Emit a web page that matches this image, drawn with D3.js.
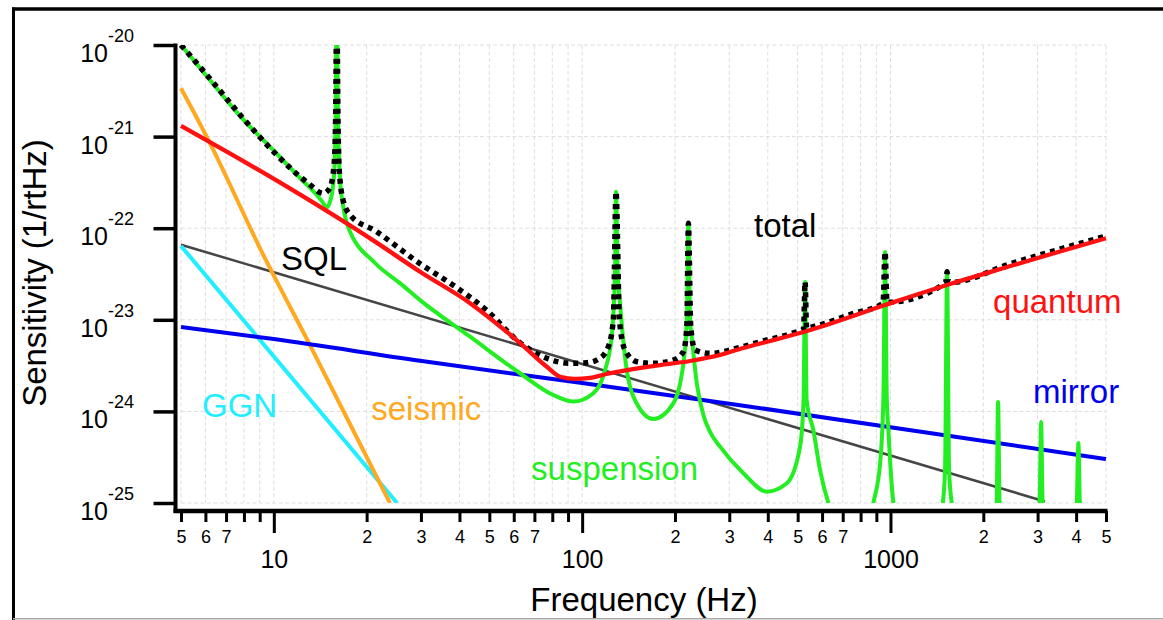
<!DOCTYPE html>
<html>
<head>
<meta charset="utf-8">
<script src="https://cdn.jsdelivr.net/npm/d3@7"></script>
<style>
  body { margin: 0; background: #fff; }
  svg { display: block; font-family: "Liberation Sans", Arial, sans-serif; }
  .grid line { stroke: #dedede; stroke-width: 1; stroke-dasharray: 4, 2.5; }
  .curve { fill: none; stroke-linejoin: round; }
</style>
</head>
<body>
<svg id="chart" width="1163" height="620"></svg>
<script>
/* =========================
   DATA  (frequency Hz, sensitivity 1/rtHz)
========================= */
const sql = [[5, 6.6e-23], [3170, 1.04e-25]];

const ggn = [[5, 6.4e-23], [25.1, 1.0e-25]];

const seismic = [
  [5, 3.37e-21], [6.13, 9.2e-22], [9.36, 4.7e-23], [9.85, 3.35e-23],
  [13.1, 5.3e-24], [23.8, 1.0e-25]
];

const mirror = [
  [5, 8.34e-24], [10, 6.16e-24], [29.8, 3.57e-24], [100, 2.04e-24],
  [325, 1.17e-24], [5000, 3.02e-25]
];

const quantum = [
  [5, 1.31e-21], [10.2, 3.32e-22], [21.3, 7.13e-23], [29.8, 3.35e-23],
  [43.3, 1.52e-23], [62.9, 5.57e-24], [76.8, 3.07e-24], [84.8, 2.39e-24],
  [94.8, 2.26e-24], [106, 2.32e-24], [120, 2.56e-24], [170, 3.13e-24],
  [224, 3.55e-24], [280, 4.13e-24], [333, 4.92e-24], [407, 5.87e-24],
  [549, 7.74e-24], [960, 1.45e-23], [1522, 2.4e-23], [2500, 3.94e-23],
  [3500, 5.5e-23], [5000, 7.76e-23]
];

const suspension = [
  [5, 1.0e-20], [6.13, 4.36e-21], [7.87, 1.6e-21], [10.1, 6.79e-22],
  [12.16, 3.53e-22], [13.6, 2.42e-22], [14.3, 1.98e-22], [14.85, 1.7e-22],
  [15.33, 2.14e-22], [15.68, 3.81e-22], [15.86, 1.52e-21], [16.0, 3e-20],
  [16.15, 1.52e-21], [16.4, 3.36e-22], [16.8, 1.72e-22], [17.4, 1.04e-22],
  [21.3, 4.17e-23], [25.7, 2.5e-23], [29.8, 1.64e-23], [43.3, 6.54e-24],
  [62.9, 2.61e-24], [80.6, 1.51e-24], [93.7, 1.28e-24], [108.7, 1.58e-24],
  [118.7, 2.83e-24], [124.7, 6.55e-24], [127.9, 3.5e-23], [128.8, 2.5e-22],
  [130.3, 3.5e-23], [132.7, 1.52e-23], [137.7, 3.95e-24], [146.6, 1.45e-24],
  [170.2, 8.26e-25], [197.7, 1.23e-24], [213, 3.35e-24], [218.5, 9.95e-24],
  [221.1, 1.13e-22], [223.9, 9.95e-24], [226.7, 6.55e-24], [235.4, 2.03e-24],
  [247.3, 9.14e-25], [260, 5.96e-25], [280.1, 4.12e-25], [333.4, 2.11e-25],
  [397, 1.33e-25], [461, 1.64e-25], [509, 4.12e-25], [522.5, 1.33e-24],
  [528.5, 2.59e-23], [534.5, 1.33e-24], [562, 6.27e-25], [591, 2.29e-25],
  [629, 1.0e-25], [687, 5.1e-26], [846, 5.1e-26], [880, 1.0e-25],
  [925.6, 2.73e-25], [948.6, 1.44e-24], [960.5, 5.5e-23], [972.6, 1.44e-24],
  [984.4, 6.27e-25], [1022, 1.0e-25], [1074, 5.1e-26], [1405, 5.1e-26],
  [1478, 1.0e-25], [1503, 2.29e-25], [1526, 3.33e-23], [1549, 2.29e-25],
  [1580, 1.0e-25], [1657, 5.1e-26], [2104, 5.1e-26], [2210, 1.0e-25],
  [2233, 1.27e-24], [2259, 1.0e-25], [2353, 5.1e-26], [2944, 5.1e-26],
  [3045, 1.0e-25], [3080, 7.66e-25], [3115, 1.0e-25], [3245, 5.1e-26],
  [3972, 5.1e-26], [4022, 1.0e-25], [4069, 4.52e-25], [4114, 1.0e-25],
  [4278, 5.1e-26]
];

const total = [
  [5, 1.0e-20], [6.13, 4.51e-21], [7.87, 1.65e-21], [10.1, 6.57e-22],
  [12.94, 3.09e-22], [14.47, 2.4e-22], [15.2, 2.75e-22], [15.68, 4.9e-22],
  [15.86, 1.52e-21], [16.0, 3e-20], [16.15, 1.52e-21], [16.3, 4.31e-22],
  [16.77, 2.03e-22], [17.7, 1.39e-22], [21.3, 9.4e-23], [29.8, 4.1e-23],
  [38.2, 2.38e-23], [49.0, 1.27e-23], [62.9, 5.6e-24], [76.8, 3.8e-24],
  [91.4, 3.35e-24], [103.5, 3.4e-24], [114, 3.8e-24], [121.6, 5.08e-24],
  [126.2, 1.0e-23], [128.8, 2.5e-22], [132.1, 1.0e-23], [137.7, 4.68e-24],
  [150.4, 3.49e-24], [170.2, 3.35e-24], [197.7, 3.64e-24], [213, 4.49e-24],
  [218.5, 8.41e-24], [221.1, 1.13e-22], [225, 8.41e-24], [232.4, 4.68e-24],
  [260, 4.3e-24], [325, 5.0e-24], [377.6, 5.75e-24], [490.4, 7.3e-24],
  [522.5, 7.9e-24], [528.5, 2.59e-23], [534.5, 8.1e-24], [569.4, 8.5e-24],
  [750, 1.16e-23], [946, 1.52e-23], [960.5, 5.53e-23], [974.5, 1.55e-23],
  [1509, 2.52e-23], [1526, 3.35e-23], [1543, 2.55e-23], [2500, 4.18e-23],
  [3500, 5.84e-23], [5000, 8.2e-23]
];

const xTicks = [5, 6, 7, 8, 9, 10, 20, 30, 40, 50, 60, 70, 80, 90,
  100, 200, 300, 400, 500, 600, 700, 800, 900, 1000, 2000, 3000, 4000, 5000];
const xMajor = [10, 100, 1000];
const xLabelDigits = ["2", "3", "4", "5", "6", "7"];
const yTickExps = [-20, -21, -22, -23, -24, -25];

// curve labels, anchored at (Hz, 1/rtHz)
const curveLabels = [
  { text: "SQL", f: 10.55, h: 3.5e-23, color: "#000" },
  { text: "total", f: 361, h: 8.0e-23, color: "#000" },
  { text: "quantum", f: 2151, h: 1.19e-23, color: "#ff1111" },
  { text: "mirror", f: 2900, h: 1.24e-24, color: "#0000ee" },
  { text: "GGN", f: 5.85, h: 8.7e-25, color: "#22eeff" },
  { text: "seismic", f: 20.7, h: 8.05e-25, color: "#ffa820" },
  { text: "suspension", f: 68.3, h: 1.78e-25, color: "#22ee22" }
];

/* =========================
   SETUP
========================= */
const width = 1163;
const height = 620;
const svg = d3.select("#chart").attr("viewBox", [0, 0, width, height]);

const x = d3.scaleLog().domain([5, 5000]).range([181, 1106]);
const y = d3.scaleLog().domain([1e-25, 1e-20]).range([503, 45]);

/* ===== FRAME ===== */
svg.append("line").attr("x1", 12).attr("x2", width).attr("y1", 9).attr("y2", 9)
  .attr("stroke", "#000").attr("stroke-width", 3.5);
svg.append("line").attr("x1", 13.5).attr("x2", 13.5).attr("y1", 7.5).attr("y2", height)
  .attr("stroke", "#000").attr("stroke-width", 3);
svg.append("line").attr("x1", 13).attr("x2", width).attr("y1", 618.8).attr("y2", 618.8)
  .attr("stroke", "#aaa").attr("stroke-width", 1.5);

/* ===== GRID ===== */
const grid = svg.append("g").attr("class", "grid");
grid.selectAll(".gx").data(xTicks).join("line").attr("class", "gx")
  .attr("x1", d => x(d)).attr("x2", d => x(d))
  .attr("y1", y.range()[1]).attr("y2", y.range()[0]);
grid.selectAll(".gy").data(yTickExps).join("line").attr("class", "gy")
  .attr("x1", x.range()[0]).attr("x2", x.range()[1])
  .attr("y1", d => y(Math.pow(10, d))).attr("y2", d => y(Math.pow(10, d)));

/* =========================
   CURVES
========================= */
svg.append("clipPath").attr("id", "plot-clip")
  .append("rect").attr("x", 176).attr("y", 45).attr("width", 935).attr("height", 458);

const straight = d3.line().x(d => x(d[0])).y(d => y(d[1]));
const smooth = d3.line().x(d => x(d[0])).y(d => y(d[1])).curve(d3.curveMonotoneX);

const series = [
  { data: sql, gen: straight, color: "#454545", w: 2.5 },
  { data: ggn, gen: straight, color: "#22eeff", w: 4 },
  { data: seismic, gen: smooth, color: "#ffa820", w: 4 },
  { data: mirror, gen: smooth, color: "#0000ee", w: 4 },
  { data: suspension, gen: smooth, color: "#22ee22", w: 4 },
  { data: total, gen: smooth, color: "#000", w: 5.5, dash: "5,5" },
  { data: quantum, gen: smooth, color: "#ff1111", w: 4.3 }
];

const plot = svg.append("g").attr("clip-path", "url(#plot-clip)");
plot.selectAll("path").data(series).join("path")
  .attr("class", "curve")
  .attr("d", d => d.gen(d.data))
  .attr("stroke", d => d.color)
  .attr("stroke-width", d => d.w)
  .attr("stroke-dasharray", d => d.dash || null);

/* ===== CURVE LABELS ===== */
svg.selectAll(".clabel").data(curveLabels).join("text").attr("class", "clabel")
  .attr("x", d => x(d.f)).attr("y", d => y(d.h))
  .attr("fill", d => d.color)
  .attr("font-size", 33)
  .text(d => d.text);

/* =========================
   AXES
========================= */
const axisY = 511;
const axisX = 175.5;

// x axis
const gx = svg.append("g").attr("transform", `translate(0,${axisY})`)
  .call(d3.axisBottom(x).tickValues(xTicks).tickSize(11).tickFormat(d => {
    const lead = String(d).charAt(0);
    if (xMajor.includes(d)) return String(d);
    return xLabelDigits.includes(lead) ? lead : "";
  }));
gx.select(".domain").remove();
gx.selectAll(".tick line")
  .attr("stroke", "#000").attr("stroke-width", 3)
  .attr("y2", d => (xMajor.includes(d) ? 22 : 11));
gx.selectAll(".tick text")
  .attr("fill", "#000")
  .attr("font-family", null)
  .attr("dy", null)
  .attr("y", d => (xMajor.includes(d) ? 57 : 32))
  .attr("font-size", d => (xMajor.includes(d) ? 25 : 18));

// y axis
const gy = svg.append("g").attr("transform", `translate(${axisX},0)`)
  .call(d3.axisLeft(y).tickValues(yTickExps.map(e => Math.pow(10, e))).tickSize(22).tickFormat(""));
gy.select(".domain").remove();
gy.selectAll(".tick line").attr("stroke", "#000").attr("stroke-width", 3.5);

const ylab = svg.append("g");
ylab.selectAll(".ten").data(yTickExps).join("text").attr("class", "ten")
  .attr("x", 108).attr("y", d => y(Math.pow(10, d)) + 17)
  .attr("text-anchor", "end").attr("font-size", 25)
  .text("10");
ylab.selectAll(".sup").data(yTickExps).join("text").attr("class", "sup")
  .attr("x", 108).attr("y", d => y(Math.pow(10, d)) - 3)
  .attr("font-size", 18)
  .text(d => String(d));

// axis lines
svg.append("line").attr("x1", axisX).attr("x2", axisX).attr("y1", 43.5).attr("y2", axisY + 2)
  .attr("stroke", "#000").attr("stroke-width", 4);
svg.append("line").attr("x1", axisX - 2).attr("x2", 1107.5).attr("y1", axisY).attr("y2", axisY)
  .attr("stroke", "#000").attr("stroke-width", 4.5);

/* ===== AXIS TITLES ===== */
svg.append("text")
  .attr("x", 644).attr("y", 611)
  .attr("text-anchor", "middle").attr("font-size", 33)
  .text("Frequency (Hz)");

svg.append("text")
  .attr("transform", "translate(46,273) rotate(-90)")
  .attr("text-anchor", "middle").attr("font-size", 33)
  .text("Sensitivity (1/rtHz)");
</script>
</body>
</html>
